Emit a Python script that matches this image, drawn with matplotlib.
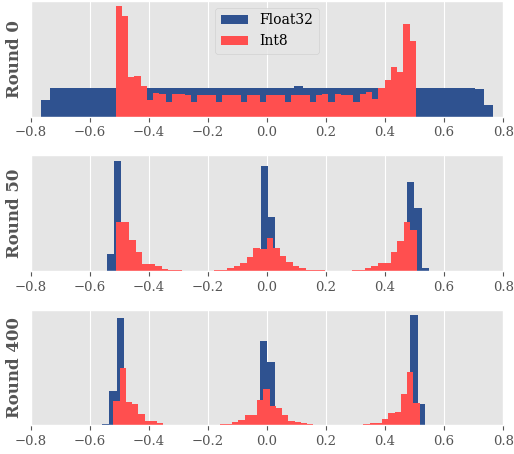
import numpy as np
import matplotlib.pyplot as plt

plt.style.use('ggplot')
plt.rcParams['font.family'] = 'DejaVu Serif'

# bin edges and bar heights (arbitrary count units)
f32_edges_r0 = np.linspace(-0.766, 0.766, 51)
f32_r0 = [50, 88, 88, 88, 88, 88, 88, 88, 88, 88,
          88, 88, 88, 88, 88, 88, 88, 88, 88, 88,
          88, 88, 88, 88, 88, 88, 88, 88, 92, 88,
          88, 88, 88, 88, 88, 88, 88, 88, 88, 88,
          88, 88, 88, 88, 88, 88, 88, 88, 85, 35]
i8_edges_r0 = np.linspace(-0.512, 0.504, 49)
i8_r0 = [335, 305, 120, 125, 92, 50, 72, 70, 45, 68,
         68, 65, 45, 65, 65, 65, 45, 65, 65, 65,
         45, 65, 65, 45, 65, 65, 65, 45, 65, 65,
         65, 45, 65, 68, 45, 68, 65, 65, 45, 68,
         75, 53, 88, 110, 150, 135, 282, 230]

f32_edges_r50 = np.linspace(-0.5424, 0.5488, 45)
f32_r50 = [50, 332, 20, 0, 0, 0, 0, 0, 0, 0,
           0, 0, 0, 0, 0, 0, 0, 0, 0, 0,
           30, 317, 164, 30, 0, 0, 0, 0, 0, 0,
           0, 0, 0, 0, 0, 0, 0, 0, 0, 0,
           40, 269, 191, 9]
i8_edges_r50 = np.linspace(-0.5107, 0.508, 47)
i8_r50 = [149, 149, 92, 57, 22, 22, 14, 5, 2, 2,
          0, 0, 0, 0, 0, 2, 2, 8, 14, 24,
          42, 68, 66, 100, 70, 44, 26, 16, 8, 2,
          2, 2, 0, 0, 0, 0, 2, 2, 8, 14,
          24, 24, 56, 90, 147, 125]

f32_edges_r400 = np.linspace(-0.6362, 0.6388, 51)
f32_r400 = [1, 1, 1, 4, 104, 324, 15, 0, 0, 0,
            0, 0, 0, 0, 0, 0, 0, 0, 0, 0,
            0, 0, 0, 15, 256, 193, 15, 0, 0, 0,
            0, 0, 0, 0, 0, 0, 0, 0, 0, 0,
            0, 0, 0, 20, 334, 64, 1, 1, 1, 1]
i8_edges_r400 = np.linspace(-0.5198, 0.5169, 50)
i8_r400 = [74, 174, 70, 64, 34, 13, 13, 7, 1, 1,
           1, 1, 1, 1, 1, 1, 1, 4, 4, 10,
           16, 31, 31, 78, 111, 58, 54, 31, 13, 10,
           6, 3, 1, 1, 1, 1, 1, 1, 1, 1,
           4, 6, 6, 19, 37, 40, 94, 163, 68]

rounds = ['Round 0', 'Round 50', 'Round 400']
f32_data = [(f32_edges_r0, f32_r0), (f32_edges_r50, f32_r50), (f32_edges_r400, f32_r400)]
i8_data = [(i8_edges_r0, i8_r0), (i8_edges_r50, i8_r50), (i8_edges_r400, i8_r400)]
xticks = [-0.8, -0.6, -0.4, -0.2, 0.0, 0.2, 0.4, 0.6, 0.8]

blue = '#2f5290'
red = '#ff4f4f'

fig, axes = plt.subplots(3, 1, figsize=(5.14, 4.54), dpi=100)
fig.subplots_adjust(left=0.0597, right=0.979, bottom=0.063, top=0.998, hspace=0.333)

for ax, name, (fe, fh), (ie, ih) in zip(axes, rounds, f32_data, i8_data):
    fc = (fe[:-1] + fe[1:]) / 2
    ic = (ie[:-1] + ie[1:]) / 2
    ax.hist(fc, bins=fe, weights=fh, histtype='stepfilled', color=blue,
            linewidth=0, label='Float32')
    ax.hist(ic, bins=ie, weights=ih, histtype='stepfilled', color=red,
            linewidth=0, label='Int8')
    ax.set_xlim(-0.8, 0.8)
    ax.set_xticks(xticks)
    ax.tick_params(axis='x', labelsize=9.5)
    ax.set_yticks([])
    ax.set_ylabel(name, fontsize=12, fontweight='bold', labelpad=5.5)

axes[0].legend(loc='upper center', fontsize=10)

plt.savefig('out.png')
plt.close()
